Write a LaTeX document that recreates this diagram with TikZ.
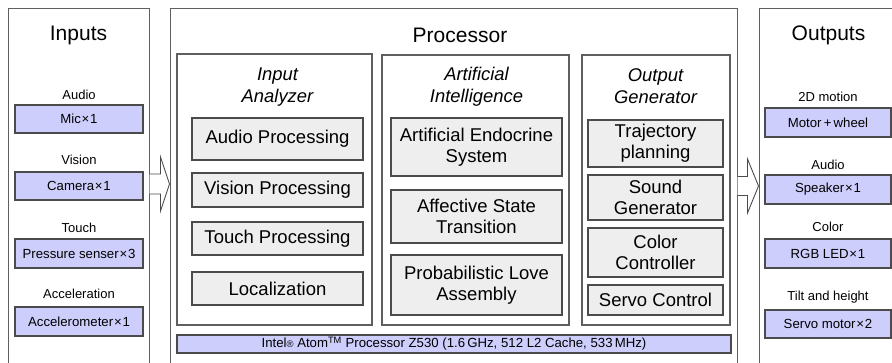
\documentclass[tikz,border=0pt]{standalone}
\usepackage{fontspec}
\setmainfont{Liberation Sans}
\usetikzlibrary{calc}
\definecolor{purp}{RGB}{206,206,252}
\definecolor{lgrey}{RGB}{238,238,238}
\definecolor{bordA}{RGB}{95,95,95}
\definecolor{bordB}{RGB}{75,75,75}
\newcommand{\mybox}[7]{\node[#2, minimum width={(#5-#3)*1pt}, minimum height={(#6-#4)*1pt}] (#1) at ({(#3+#5)/2},{(#4+#6)/2}) {#7};}
\newcommand{\tms}{\kern0.8pt×\kern0.8pt}
\begin{document}
\begin{tikzpicture}[x=1pt,y=-1pt,
  outer/.style={rectangle, draw=bordA, line width=1pt, inner sep=0pt},
  sect/.style={rectangle, draw=bordA, line width=1.1pt, inner sep=0pt},
  procbox/.style={rectangle, draw=bordB, fill=lgrey, line width=1.2pt, inner sep=0pt, align=center, font=\fontsize{18.5}{21}\selectfont},
  devbox/.style={rectangle, draw=bordB, fill=purp, line width=1.1pt, inner sep=0pt, font=\fontsize{13.2}{15}\selectfont},
  lbl/.style={inner sep=0pt, font=\fontsize{13}{15}\selectfont},
  ttl/.style={inner sep=0pt, font=\fontsize{21}{25}\selectfont},
  stitle/.style={inner sep=0pt, align=center, font=\fontsize{18.4}{22}\selectfont\itshape},
  blockarrow/.style={draw=bordB, line width=0.9pt, fill=white, line join=miter}]
\useasboundingbox (0,0) rectangle (892,362);
\clip (0,0) rectangle (892,362);
% outer boxes
\mybox{inbox}{outer}{8}{8}{149}{380}{}
\mybox{proc}{outer}{170}{8}{737}{380}{}
\mybox{outbox}{outer}{759}{8}{898}{380}{}
\node[ttl] (tin) at (78.5,35) {Inputs};
\node[ttl] (tproc) at (460,35) {Processor};
\node[ttl] (tout) at (828.5,35) {Outputs};
% inputs
\node[lbl] (lAudio) at (79,95) {Audio};
\mybox{mic}{devbox}{15}{105}{143}{133}{Mic\tms 1}
\node[lbl] (lVision) at (79,160) {Vision};
\mybox{cam}{devbox}{15}{172}{143}{200}{Camera\tms 1}
\node[lbl] (lTouch) at (79,228) {Touch};
\mybox{press}{devbox}{15}{239}{143}{268}{Pressure senser\tms 3}
\node[lbl] (lAcc) at (79,294) {Acceleration};
\mybox{accel}{devbox}{15}{307}{143}{336}{Accelerometer\tms 1}
% sections
\mybox{ia}{sect}{177}{54}{372}{325}{}
\mybox{ai}{sect}{382}{55}{569}{325}{}
\mybox{og}{sect}{582}{55}{730}{325}{}
\node[stitle] (tia) at (277.5,87.5) {Input\\Analyzer};
\node[stitle] (tai) at (476.5,86.5) {Artificial\\Intelligence};
\node[stitle] (tog) at (655.5,86.5) {Output\\Generator};
% input analyzer
\mybox{ap}{procbox}{192}{118}{363}{160}{Audio Processing}
\mybox{vp}{procbox}{192}{173}{363}{207}{Vision Processing}
\mybox{tp}{procbox}{192}{222}{363}{255}{Touch Processing}
\mybox{loc}{procbox}{192}{272}{363}{305}{Localization}
% AI
\mybox{aes}{procbox}{391}{118}{562}{176}{Artificial Endocrine\\System}
\mybox{ast}{procbox}{391}{190}{562}{243}{Affective State\\Transition}
\mybox{pla}{procbox}{391}{255}{562}{315}{Probabilistic Love\\Assembly}
% output generator
\mybox{traj}{procbox}{588}{120}{723}{167}{Trajectory\\planning}
\mybox{sg}{procbox}{588}{175}{723}{220}{Sound\\Generator}
\mybox{cc}{procbox}{588}{228}{723}{277}{Color\\Controller}
\mybox{sc}{procbox}{588}{285}{723}{315}{Servo Control}
% intel bar
\mybox{intel}{devbox}{177}{335}{731}{353}{\fontsize{13.2}{14}\selectfont Intel{\fontsize{9.5}{10}\selectfont ®} Atom\textsuperscript{TM} Processor Z530 (1.6\,GHz, 512 L2 Cache, 533\,MHz)}
% outputs
\node[lbl] (l2d) at (828,97) {2D motion};
\mybox{motor}{devbox}{765}{108}{891}{137}{Motor\,+\,wheel}
\node[lbl] (lAud2) at (828,165) {Audio};
\mybox{spk}{devbox}{765}{175}{891}{204}{Speaker\tms 1}
\node[lbl] (lCol) at (828,227) {Color};
\mybox{led}{devbox}{765}{239}{891}{268}{RGB LED\tms 1}
\node[lbl] (lTilt) at (828,297) {Tilt and height};
\mybox{servo}{devbox}{765}{310}{891}{338}{Servo motor\tms 2}
% block arrows
\coordinate (ayL) at (0,184);
\coordinate (ayR) at (0,186);
\draw[blockarrow] ($(inbox.east|-ayL)+(0,-10)$) -- ($(proc.west|-ayL)+(-9,-10)$) -- ($(proc.west|-ayL)+(-9,-27)$) -- (proc.west|-ayL) -- ($(proc.west|-ayL)+(-9,27)$) -- ($(proc.west|-ayL)+(-9,10)$) -- ($(inbox.east|-ayL)+(0,10)$);
\draw[blockarrow] ($(proc.east|-ayR)+(0,-9.5)$) -- ($(outbox.west|-ayR)+(-11,-9.5)$) -- ($(outbox.west|-ayR)+(-11,-27)$) -- (outbox.west|-ayR) -- ($(outbox.west|-ayR)+(-11,27)$) -- ($(outbox.west|-ayR)+(-11,9.5)$) -- ($(proc.east|-ayR)+(0,9.5)$);
\end{tikzpicture}
\end{document}
